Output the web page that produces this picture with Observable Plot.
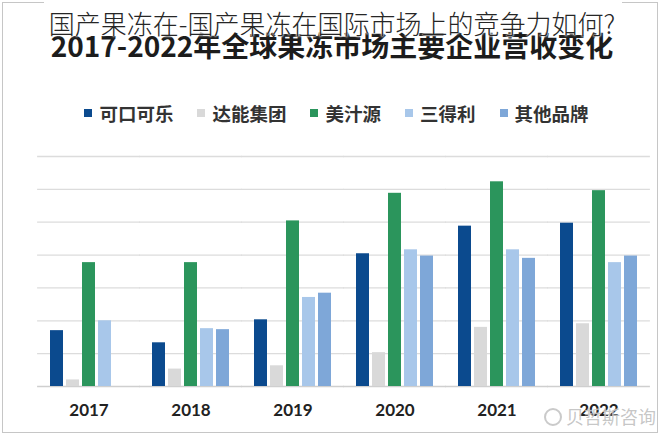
<!DOCTYPE html>
<html><head><meta charset="utf-8">
<script src="https://cdn.jsdelivr.net/npm/d3@7"></script>
<script src="https://cdn.jsdelivr.net/npm/@observablehq/plot@0.6"></script>
<style>
html,body{margin:0;padding:0;background:#fff;}
#wrap{position:relative;width:664px;height:437px;overflow:hidden;font-family:"Noto Sans CJK SC","Noto Sans",sans-serif;}
#frame{position:absolute;left:2px;top:2px;width:656px;height:431px;border:1px solid #c6c6c6;box-sizing:border-box;}
#chart{position:absolute;left:0;top:0;}
#topmask{position:absolute;left:44px;width:578px;top:0;height:7px;background:#fff;}
#subtitle{position:absolute;left:0;width:664px;top:30px;text-align:center;font-size:28px;font-weight:700;color:#1c1c1c;line-height:30px;white-space:nowrap;}
#title{position:absolute;left:0;width:664px;top:5px;text-align:center;font-size:26px;font-weight:300;color:#262626;line-height:36px;white-space:nowrap;
  text-shadow:0 0 2px #fff,0 0 2px #fff,0 0 3px #fff;}
#legend{position:absolute;left:0;width:673px;top:101px;display:flex;justify-content:center;gap:24px;}
.item{display:flex;align-items:center;font-size:18.5px;font-weight:700;color:#333;line-height:24px;}
.sw{width:8px;height:8px;margin-right:7px;}
#wm{position:absolute;left:544px;top:403px;font-size:18px;color:rgba(150,150,150,0.55);white-space:nowrap;
  text-shadow:0 0 1px #fff;}
#wm span{display:inline-block;width:14px;height:14px;border:2px solid rgba(150,150,150,0.5);border-radius:50%;margin-right:4px;vertical-align:-2px;}
</style></head>
<body>
<div id="wrap">
  <div id="frame"></div>
  <div id="chart"></div>
  <div id="topmask"></div>
  <div id="subtitle">2017-2022年全球果冻市场主要企业营收变化</div>
  <div id="title">国产果冻在-国产果冻在国际市场上的竞争力如何?</div>
  <div id="legend"></div>
  <div id="wm"><span></span>贝哲斯咨询</div>
</div>
<script>
const years = ["2017","2018","2019","2020","2021","2022"];
const brands = ["可口可乐","达能集团","美汁源","三得利","其他品牌"];
const brandColors = ["#0b4a8e","#d9d9d9","#2b955c","#a8c7ea","#7ea7d8"];
const cocaCola   = [17.0, 13.3, 20.3, 40.4, 48.8, 49.7];
const danone     = [2.0, 5.3, 6.3, 10.3, 18.0, 19.1];
const minuteMaid = [37.7, 37.7, 50.4, 58.8, 62.3, 59.6];
const suntory    = [20.0, 17.6, 27.1, 41.6, 41.6, 37.7];
const others     = [null, 17.3, 28.4, 39.7, 39.0, 39.7];
const gridValues = [10, 20, 30, 40, 50, 60, 70];

const seriesValues = [cocaCola, danone, minuteMaid, suntory, others];
const rows = [];
years.forEach((yr, i) => {
  seriesValues.forEach((arr, j) => {
    if (arr[i] != null) rows.push({year: yr, brand: brands[j], value: arr[i]});
  });
});

const chart = Plot.plot({
  width: 664, height: 437,
  marginLeft: 35, marginRight: 13, marginTop: 156, marginBottom: 51,
  style: {fontFamily: "Lato, 'Open Sans', sans-serif", color: "#222", background: "transparent"},
  fx: {domain: years, paddingInner: 0.25, paddingOuter: 0.125, label: null},
  x: {domain: brands, paddingInner: 0.19, paddingOuter: 0, axis: null},
  y: {domain: [0, 70], axis: null},
  color: {domain: brands, range: brandColors},
  marks: [
    Plot.ruleY(gridValues, {y: d => d, stroke: "#dcdcdc", strokeWidth: 1.3, insetLeft: -12.9, insetRight: -12.9}),
    Plot.ruleY([0], {stroke: "#cfcfcf", strokeWidth: 1.6, insetLeft: -12.9, insetRight: -12.9}),
    Plot.barY(rows, {fx: "year", x: "brand", y: "value", fill: "brand"}),
    Plot.axisFx({anchor: "bottom", tickSize: 0, tickPadding: 17, fontSize: 17, fontWeight: "bold", label: null})
  ]
});
document.getElementById("chart").appendChild(chart);

const legend = document.getElementById("legend");
brands.forEach((b, i) => {
  const it = document.createElement("div");
  it.className = "item";
  const sw = document.createElement("div");
  sw.className = "sw";
  sw.style.background = brandColors[i];
  it.appendChild(sw);
  it.appendChild(document.createTextNode(b));
  legend.appendChild(it);
});
</script>
</body></html>
